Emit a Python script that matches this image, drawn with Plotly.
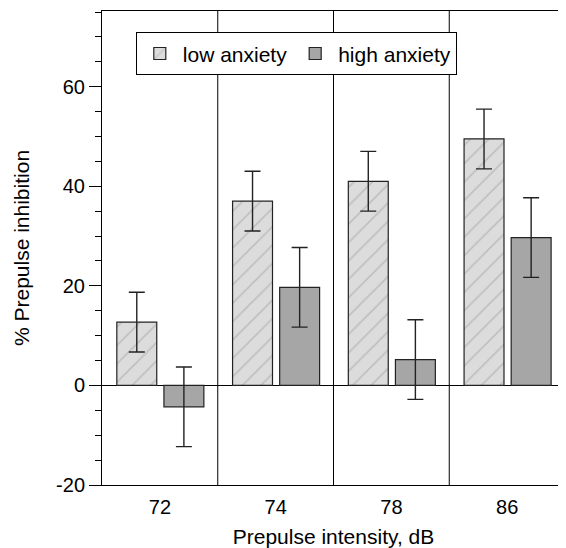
import plotly.graph_objects as go

categories = ["72", "74", "78", "86"]
low_vals = [12.7, 37.0, 41.0, 49.5]
low_err = [6.0, 6.0, 6.0, 6.0]
high_vals = [-4.3, 19.7, 5.2, 29.7]
high_err = [8.0, 8.0, 8.0, 8.0]
y_ticks = [-20, 0, 20, 40, 60]
y_ticktext = ["-20", "0", "20", "40", "60"]

xpos = list(range(len(categories)))
font = "Liberation Sans, Arial, Helvetica, sans-serif"
FS = 20
FT = 21

fig = go.Figure()
fig.add_trace(go.Bar(
    x=xpos, y=low_vals, name="low anxiety", width=0.345, offset=-0.372,
    marker=dict(color="#dcdcdc", line=dict(color="#222222", width=1.2),
                pattern=dict(shape="/", fgcolor="#a0a0a0", bgcolor="#dcdcdc", size=13, solidity=0.12)),
    error_y=dict(type="data", array=low_err, color="#222222", thickness=1.4, width=8),
))
fig.add_trace(go.Bar(
    x=xpos, y=high_vals, name="high anxiety", width=0.345, offset=0.035,
    marker=dict(color="#a6a6a6", line=dict(color="#222222", width=1.2)),
    error_y=dict(type="data", array=high_err, color="#222222", thickness=1.4, width=8),
))

for xv in [0.5, 1.5, 2.5]:
    fig.add_shape(type="line", xref="x", yref="paper", x0=xv, x1=xv, y0=0, y1=1,
                  line=dict(color="black", width=1), layer="below")

fig.update_layout(
    width=566, height=548,
    margin=dict(l=94, r=9, t=3, b=71),
    plot_bgcolor="white", paper_bgcolor="white",
    barmode="overlay",
    font=dict(family=font, size=FS, color="black"),
    showlegend=True,
    legend=dict(orientation="h", x=0.073, y=0.955, xanchor="left", yanchor="top",
                bordercolor="black", borderwidth=1, bgcolor="white",
                font=dict(size=FT), itemwidth=36, tracegroupgap=0),
)
fig.update_xaxes(
    range=[-0.5, 3.5], tickmode="array", tickvals=xpos, ticktext=categories,
    showgrid=False, showline=True, linecolor="black", linewidth=1, mirror=True,
    ticks="outside", ticklen=4, tickcolor="white", tickfont=dict(size=FS),
    title=dict(text="Prepulse intensity, dB", font=dict(size=FT), standoff=12),
)
fig.update_yaxes(
    range=[-20, 75.2], tickmode="array", tickvals=y_ticks, ticktext=y_ticktext,
    showgrid=False, showline=True, linecolor="black", linewidth=1, mirror=True,
    ticks="outside", ticklen=12, tickcolor="black", tickwidth=1,
    minor=dict(dtick=5, ticks="outside", ticklen=6, tickcolor="black", tickwidth=1, showgrid=False),
    zeroline=True, zerolinecolor="black", zerolinewidth=1,
    tickfont=dict(size=FS),
    title=dict(text="% Prepulse inhibition", font=dict(size=FT), standoff=20),
)

fig.write_html("out.html")
